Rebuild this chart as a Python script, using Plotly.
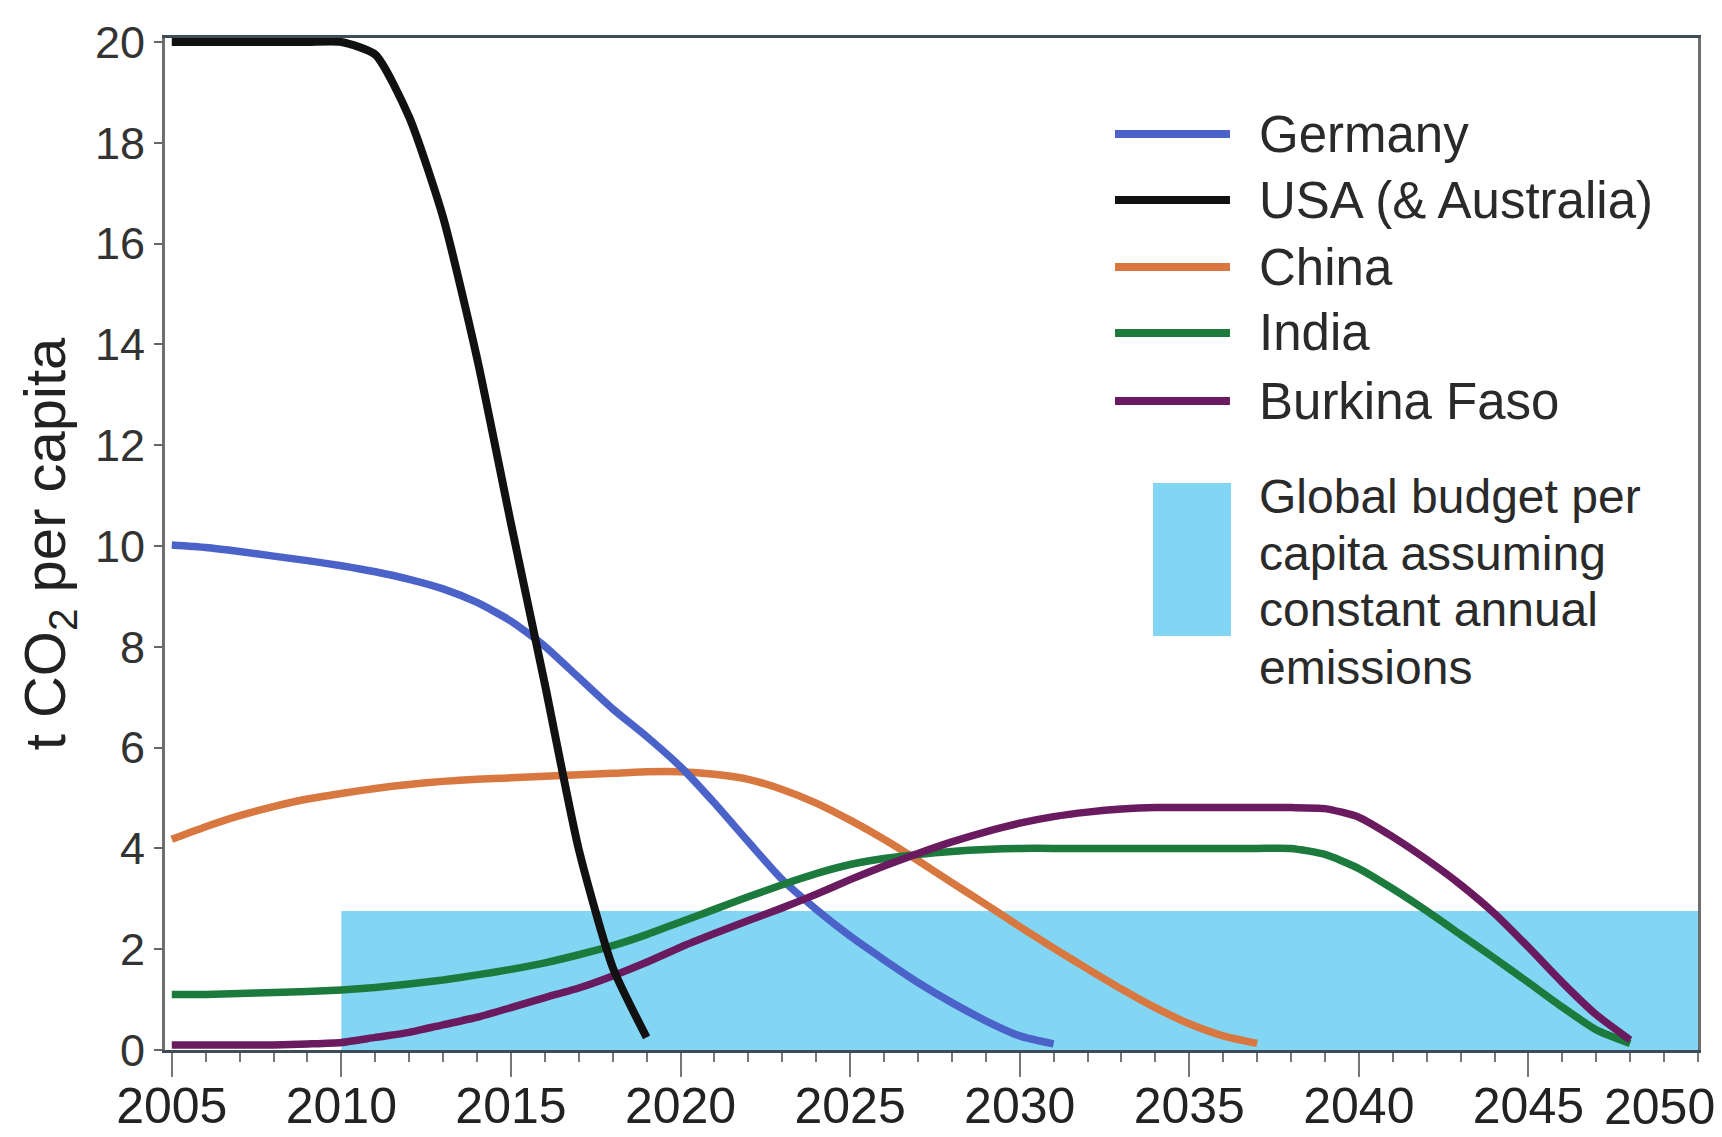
import plotly.graph_objects as go

# ---------------- data ----------------
usa_years = list(range(2005, 2020))
usa_vals = [20, 20, 20, 20, 20, 20, 19.75, 18.51, 16.52, 13.73, 10.45, 7.26, 3.98, 1.64, 0.25]

germany_years = list(range(2005, 2032))
germany_vals = [10.02, 9.97, 9.89, 9.8, 9.71, 9.61, 9.49, 9.34, 9.15, 8.88, 8.51, 8.01,
                7.39, 6.77, 6.22, 5.62, 4.9, 4.13, 3.38, 2.79, 2.26, 1.79, 1.34, 0.94,
                0.58, 0.28, 0.12]

china_years = list(range(2005, 2038))
china_vals = [4.18, 4.43, 4.65, 4.83, 4.98, 5.09, 5.19, 5.27, 5.33, 5.37, 5.4, 5.43, 5.46,
              5.49, 5.52, 5.52, 5.47, 5.37, 5.17, 4.9, 4.56, 4.18, 3.76, 3.32, 2.89, 2.45,
              2.02, 1.61, 1.21, 0.84, 0.52, 0.28, 0.13]

india_years = list(range(2005, 2049))
india_vals = [1.1, 1.1, 1.12, 1.14, 1.16, 1.19, 1.24, 1.31, 1.39, 1.49, 1.6, 1.73, 1.89,
              2.07, 2.29, 2.54, 2.79, 3.04, 3.28, 3.5, 3.68, 3.8, 3.88, 3.94, 3.98, 4.0,
              4.0, 4.0, 4.0, 4.0, 4.0, 4.0, 4.0, 4.0, 3.88, 3.6, 3.2, 2.76,
              2.29, 1.82, 1.34, 0.85, 0.4, 0.13]

burkina_years = list(range(2005, 2049))
burkina_vals = [0.1, 0.1, 0.1, 0.1, 0.12, 0.15, 0.25, 0.35, 0.5, 0.65, 0.84, 1.04,
                1.23, 1.47, 1.74, 2.04, 2.31, 2.57, 2.82, 3.09, 3.38, 3.65, 3.9, 4.13,
                4.33, 4.5, 4.63, 4.72, 4.78, 4.81, 4.81, 4.81, 4.81, 4.81, 4.79, 4.62,
                4.23, 3.78, 3.28, 2.71, 2.04, 1.34, 0.7, 0.2]

budget_start = 2010
budget_end = 2050
budget_level = 2.76

series_names = ["Germany", "USA (& Australia)", "China", "India", "Burkina Faso"]
series_colors = ["#4b63c8", "#111111", "#d8773f", "#1c7a3d", "#6a1a5e"]
budget_label = ["Global budget per", "capita assuming", "constant annual", "emissions"]

x_tick_vals = [2005, 2010, 2015, 2020, 2025, 2030, 2035, 2040, 2045, 2050]
y_tick_vals = [0, 2, 4, 6, 8, 10, 12, 14, 16, 18, 20]

FONT = "Liberation Sans, Arial, sans-serif"
BUDGET_COLOR = "#83d5f4"

fig = go.Figure()

# budget area
fig.add_trace(go.Scatter(
    x=[budget_start, budget_end, budget_end, budget_start, budget_start],
    y=[0, 0, budget_level, budget_level, 0],
    fill="toself", fillcolor=BUDGET_COLOR, mode="lines",
    line=dict(width=0, color=BUDGET_COLOR), showlegend=False, hoverinfo="skip"))

data = [
    (germany_years, germany_vals),
    (usa_years, usa_vals),
    (china_years, china_vals),
    (india_years, india_vals),
    (burkina_years, burkina_vals),
]
draw_order = [2, 0, 3, 4, 1]
for i in draw_order:
    xs, ys = data[i]
    fig.add_trace(go.Scatter(
        x=xs, y=ys, mode="lines", name=series_names[i],
        line=dict(color=series_colors[i], width=8 if i == 1 else 7.5,
                  shape="spline", smoothing=0.6),
        showlegend=False))

# ---------------- manual legend ----------------
row_y = [0.9051, 0.8399, 0.7737, 0.7085, 0.6413]
for name, color, yy in zip(series_names, series_colors, row_y):
    fig.add_shape(type="line", xref="paper", yref="paper",
                  x0=0.6197, x1=0.6947, y0=yy, y1=yy,
                  line=dict(color=color, width=8))
    fig.add_annotation(xref="paper", yref="paper", x=0.7123, y=yy,
                       xanchor="left", yanchor="middle", showarrow=False,
                       text=name, font=dict(family=FONT, size=51, color="#2a2a2a"))

fig.add_shape(type="rect", xref="paper", yref="paper",
              x0=0.6445, x1=0.6954, y0=0.4091, y1=0.5603,
              fillcolor=BUDGET_COLOR, line=dict(width=0))
for txt, yy in zip(budget_label, [0.5474, 0.4911, 0.4348, 0.3784]):
    fig.add_annotation(xref="paper", yref="paper", x=0.7123, y=yy,
                       xanchor="left", yanchor="middle", showarrow=False,
                       text=txt, font=dict(family=FONT, size=48, color="#2a2a2a"))

# last year label, shifted left to fit inside the figure
fig.add_annotation(xref="paper", yref="paper", x=0.9752, y=-0.0565,
                   xanchor="center", yanchor="middle", showarrow=False,
                   text=str(x_tick_vals[-1]),
                   font=dict(family=FONT, size=50, color="#222222"))

fig.update_layout(
    width=1714, height=1129,
    margin=dict(l=157, r=24, t=30, b=87),
    paper_bgcolor="white", plot_bgcolor="white",
    showlegend=False,
    xaxis=dict(
        range=[2004.8, 2050], automargin=False,
        tickmode="array", tickvals=x_tick_vals[:-1],
        ticktext=[str(v) for v in x_tick_vals[:-1]],
        ticks="outside", ticklen=24, tickwidth=2, tickcolor="#777777",
        minor=dict(dtick=1, tick0=2005, ticks="outside", ticklen=9,
                   tickwidth=2, tickcolor="#777777"),
        ticklabelstandoff=-14,
        tickfont=dict(family=FONT, size=50, color="#222222"),
        showline=True, linecolor="#3d4d57", linewidth=3, mirror=True,
        showgrid=False, zeroline=False,
    ),
    yaxis=dict(
        range=[0, 20.08], automargin=False,
        tickmode="array", tickvals=y_tick_vals,
        ticks="outside", ticklen=8, tickwidth=2, tickcolor="#666666",
        tickfont=dict(family=FONT, size=45, color="#333333"),
        showline=True, linecolor="#6e6e6e", linewidth=3, mirror=True,
        showgrid=False, zeroline=False,
        title=dict(text="t CO<sub>2</sub> per capita",
                   font=dict(family=FONT, size=58, color="#222222"),
                   standoff=11),
    ),
)

fig.write_html("out.html")
